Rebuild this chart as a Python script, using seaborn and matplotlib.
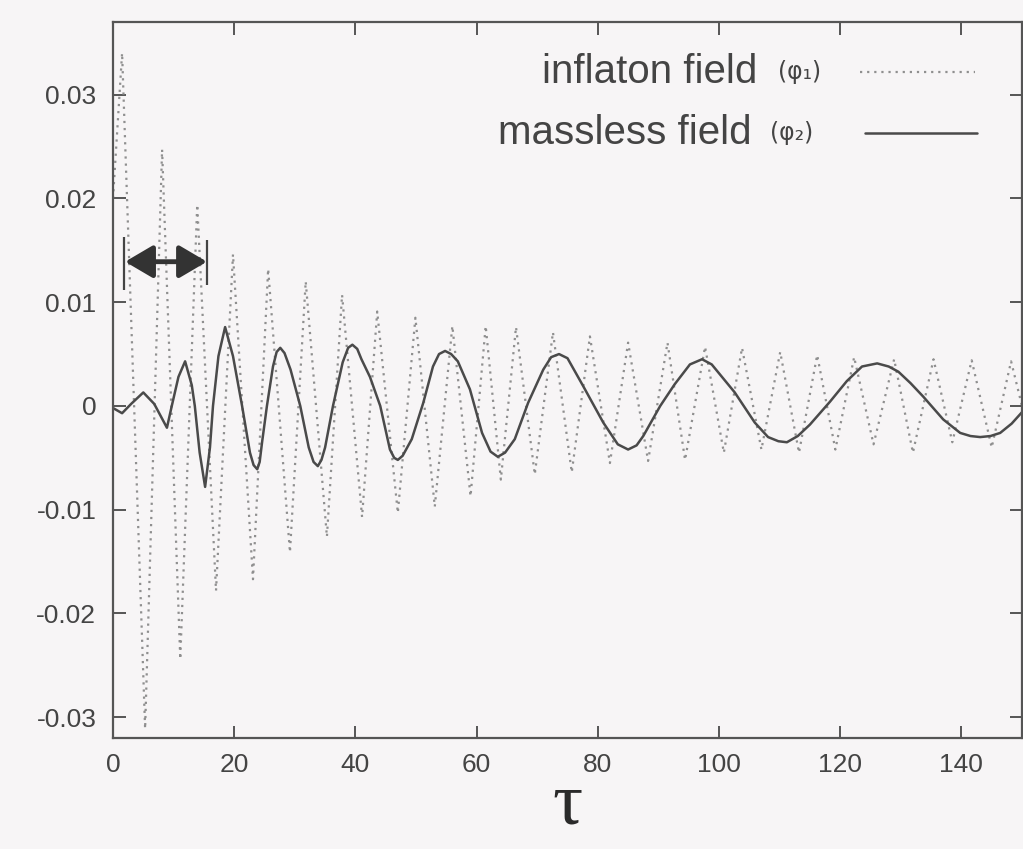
import matplotlib
matplotlib.use("Agg")
import matplotlib.pyplot as plt
from matplotlib.lines import Line2D
import pandas as pd
import seaborn as sns

# inflaton field (phi1): turning points
tau_inflaton = [0.0, 1.5, 5.3, 8.1, 11.1, 13.9, 17.0, 19.8, 23.1, 25.6, 29.2, 31.8,
                35.3, 37.8, 41.1, 43.6, 47.0, 49.9, 53.1, 56.0, 59.0, 61.5, 64.0,
                66.5, 69.6, 72.6, 75.7, 78.7, 82.0, 85.0, 88.3, 91.5, 94.4, 97.7,
                100.8, 103.8, 107.0, 110.1, 113.2, 116.2, 119.2, 122.3, 125.5,
                128.9, 132.0, 135.4, 138.5, 141.7, 145.0, 148.2, 150.0]
phi_inflaton = [0.020, 0.034, -0.0311, 0.0247, -0.0244, 0.0194, -0.0178, 0.0146,
                -0.0167, 0.0132, -0.0141, 0.0120, -0.0126, 0.0107, -0.0107, 0.0091,
                -0.0103, 0.0085, -0.0097, 0.0077, -0.0087, 0.0077, -0.0071, 0.0076,
                -0.0066, 0.0071, -0.0064, 0.0067, -0.0055, 0.0061, -0.0053, 0.0061,
                -0.0052, 0.0057, -0.0045, 0.0056, -0.0042, 0.0052, -0.0045, 0.0049,
                -0.0042, 0.0047, -0.0037, 0.0045, -0.0045, 0.0045, -0.0035, 0.0044,
                -0.0040, 0.0043, 0.0]

# massless field (phi2)
tau_massless = [0.0, 1.5, 3.0, 5.0, 6.8, 8.9, 9.7, 10.8, 11.9, 13.0, 13.5, 14.3,
                15.2, 16.0, 16.5, 17.4, 18.5, 19.8, 21.3, 22.6, 23.2, 23.8, 24.2,
                24.6, 25.4, 26.4, 27.0, 27.6, 28.3, 29.3, 30.9, 32.3, 33.1, 33.8,
                34.4, 35.0, 36.3, 37.9, 38.8, 39.5, 40.3, 41.0, 42.4, 44.1, 45.7,
                46.4, 47.0, 47.8, 49.3, 51.2, 52.8, 53.8, 54.8, 55.8, 56.9, 58.9,
                60.9, 62.3, 63.5, 64.7, 66.3, 68.5, 71.0, 72.3, 73.6, 75.0, 77.6,
                80.9, 83.3, 85.0, 86.4, 87.5, 90.3, 92.7, 95.2, 97.2, 98.8, 102.6,
                105.9, 108.1, 109.8, 111.2, 113.0, 115.0, 118.3, 121.1, 123.6,
                126.1, 128.0, 129.6, 131.6, 133.7, 137.0, 139.8, 141.5, 143.1,
                144.8, 146.4, 148.3, 150.0]
phi_massless = [-0.0002, -0.0007, 0.0002, 0.0013, 0.0002, -0.0021, 0.0000, 0.0028,
                0.0043, 0.0020, 0.0000, -0.0045, -0.0078, -0.0040, 0.0000, 0.0048,
                0.0076, 0.0048, 0.0000, -0.0045, -0.0057, -0.0061, -0.0054,
                -0.0035, 0.0000, 0.0038, 0.0052, 0.0056, 0.0051, 0.0035, 0.0000,
                -0.0040, -0.0054, -0.0058, -0.0052, -0.0040, 0.0000, 0.0042,
                0.0056, 0.0059, 0.0055, 0.0045, 0.0028, 0.0000, -0.0042, -0.0050,
                -0.0052, -0.0048, -0.0032, 0.0003, 0.0038, 0.0050, 0.0053, 0.0050,
                0.0043, 0.0016, -0.0026, -0.0044, -0.0049, -0.0045, -0.0032,
                0.0003, 0.0035, 0.0047, 0.0050, 0.0046, 0.0019, -0.0016, -0.0037,
                -0.0042, -0.0038, -0.0029, 0.0000, 0.0021, 0.0040, 0.0045, 0.0040,
                0.0013, -0.0016, -0.0030, -0.0034, -0.0035, -0.0029, -0.0018,
                0.0004, 0.0024, 0.0038, 0.0041, 0.0038, 0.0033, 0.0022, 0.0009,
                -0.0013, -0.0026, -0.0029, -0.0030, -0.0029, -0.0026, -0.0017,
                -0.0006]

x_ticks = [0, 20, 40, 60, 80, 100, 120, 140]
y_ticks = [-0.03, -0.02, -0.01, 0.0, 0.01, 0.02, 0.03]
y_tick_labels = ["-0.03", "-0.02", "-0.01", "0", "0.01", "0.02", "0.03"]

# double arrow marking the first few oscillations
arrow_tau = (2.0, 15.5)
arrow_phi = 0.0139

sns.set_theme(style="ticks")
plt.rcParams["font.family"] = ["Liberation Sans", "DejaVu Sans"]

paper = "#f7f5f6"

fig = plt.figure(figsize=(10.23, 8.49), dpi=100, facecolor=paper)
W, H = 1023, 849
ax = fig.add_axes([113 / W, (H - 738) / H, (1022 - 113) / W, (738 - 22) / H])
ax.set_facecolor(paper)

df1 = pd.DataFrame({"tau": tau_inflaton, "phi": phi_inflaton})
df2 = pd.DataFrame({"tau": tau_massless, "phi": phi_massless})

sns.lineplot(data=df1, x="tau", y="phi", ax=ax, sort=False, color="#8f8f8f",
             linewidth=1.6, linestyle=(0, (1, 2.2)))
sns.lineplot(data=df2, x="tau", y="phi", ax=ax, sort=False, color="#4a4a4a",
             linewidth=1.8)

ax.set_xlim(0, 150)
ax.set_ylim(-0.032, 0.037)
ax.set_xticks(x_ticks)
ax.set_xticklabels([str(t) for t in x_ticks])
ax.set_yticks(y_ticks)
ax.set_yticklabels(y_tick_labels)
ax.tick_params(direction="in", top=True, right=True, length=9, width=1.4,
               color="#555555", labelsize=19, labelcolor="#444444")
ax.tick_params(axis="y", pad=12)
ax.tick_params(axis="x", pad=11)
for s in ax.spines.values():
    s.set_color("#555555")
    s.set_linewidth(1.6)

ax.set_xlabel("τ", family=["Liberation Serif", "DejaVu Serif"], fontsize=54,
              color="#2a2a2a", labelpad=-4)
ax.set_ylabel("")

# arrow with end bars
ax.annotate("", xy=(arrow_tau[1], arrow_phi), xytext=(arrow_tau[0], arrow_phi),
            arrowprops=dict(arrowstyle="<|-|>,head_length=1.7,head_width=1.0",
                            color="#333333", lw=3.5, shrinkA=0, shrinkB=0,
                            mutation_scale=10))
ax.vlines([arrow_tau[0] - 0.2, arrow_tau[1]], [0.0112, 0.0117], [0.0163, 0.0160],
          color="#444444", lw=1.6)

# legend drawn gnuplot-style: text right-aligned, sample on the right
fig.text(757 / W, 1 - 72 / H, "inflaton field", ha="right", va="center",
         fontsize=29, color="#444444")
fig.text(778 / W, 1 - 72 / H, "(φ₁)", ha="left", va="center", fontsize=17,
         color="#444444", family="DejaVu Sans")
fig.text(752 / W, 1 - 133 / H, "massless field", ha="right", va="center",
         fontsize=29, color="#444444")
fig.text(770 / W, 1 - 133 / H, "(φ₂)", ha="left", va="center", fontsize=17,
         color="#444444", family="DejaVu Sans")
fig.add_artist(Line2D([860 / W, 975 / W], [1 - 72 / H, 1 - 72 / H],
                      transform=fig.transFigure, color="#8f8f8f", lw=1.6,
                      linestyle=(0, (1, 2.2))))
fig.add_artist(Line2D([865 / W, 977 / W], [1 - 133 / H, 1 - 133 / H],
                      transform=fig.transFigure, color="#4a4a4a", lw=1.8))

fig.savefig("out.png", dpi=100, facecolor=paper)
